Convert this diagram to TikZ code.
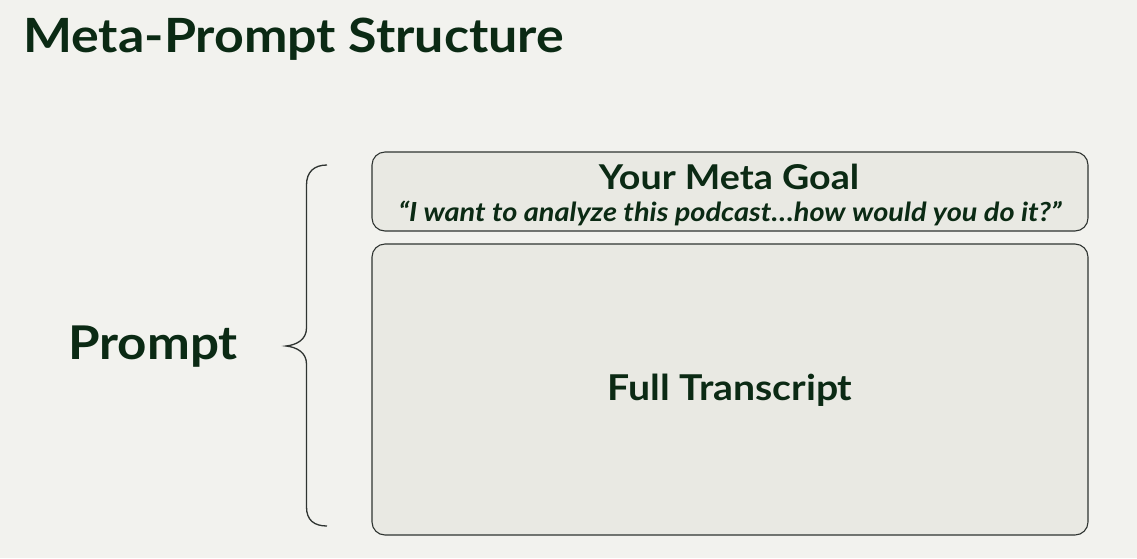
\documentclass[tikz,border=0pt]{standalone}
\usepackage{fontspec}
\setmainfont{Lato}[FakeStretch=1.1]
\definecolor{bg}{HTML}{F2F2EE}
\definecolor{boxfill}{HTML}{E9E9E3}
\definecolor{ink}{HTML}{0B2A14}
\definecolor{edge}{HTML}{2F3431}
\begin{document}
\begin{tikzpicture}[x=1pt,y=-1pt,
  panel/.style={draw=edge,fill=boxfill,line width=1.1pt,rounded corners=13pt},
  lbl/.style={text=ink,font=\bfseries,inner sep=0pt}]
\fill[bg] (0,0) rectangle (1137,558);
\useasboundingbox (0,0) rectangle (1137,558);
\node[lbl,anchor=west,font=\bfseries\fontsize{47.2}{50}\selectfont] (title) at (23,39) {Meta-Prompt Structure};
\draw[panel] (372,152) rectangle (1088,231);
\node (goalbox) at (730,191.5) {};
\draw[panel] (372,244) rectangle (1088,535);
\node (transbox) at (730,389.5) {};
\node[lbl,font=\bfseries\fontsize{34.2}{38}\selectfont] (goal) at (729,177) {Your Meta Goal};
\node[lbl,font=\bfseries\itshape\fontsize{26.3}{28}\selectfont] (quote) at (730,213) {“I want to analyze this podcast…how would you do it?”};
\node[lbl,font=\bfseries\fontsize{35.6}{38}\selectfont] (trans) at (730,390) {Full Transcript};
\node[lbl,font=\bfseries\fontsize{46.5}{48}\selectfont] (prompt) at (153,347) {Prompt};
\draw[edge,line width=1.3pt] (327,165) .. controls (314,165) and (306.5,172) .. (306.5,185)
  -- (306.5,328) .. controls (306.5,340) and (296,345) .. (286,346)
  .. controls (296,347) and (306.5,352) .. (306.5,364)
  -- (306.5,507) .. controls (306.5,520) and (314,526) .. (327,526);
\end{tikzpicture}
\end{document}
